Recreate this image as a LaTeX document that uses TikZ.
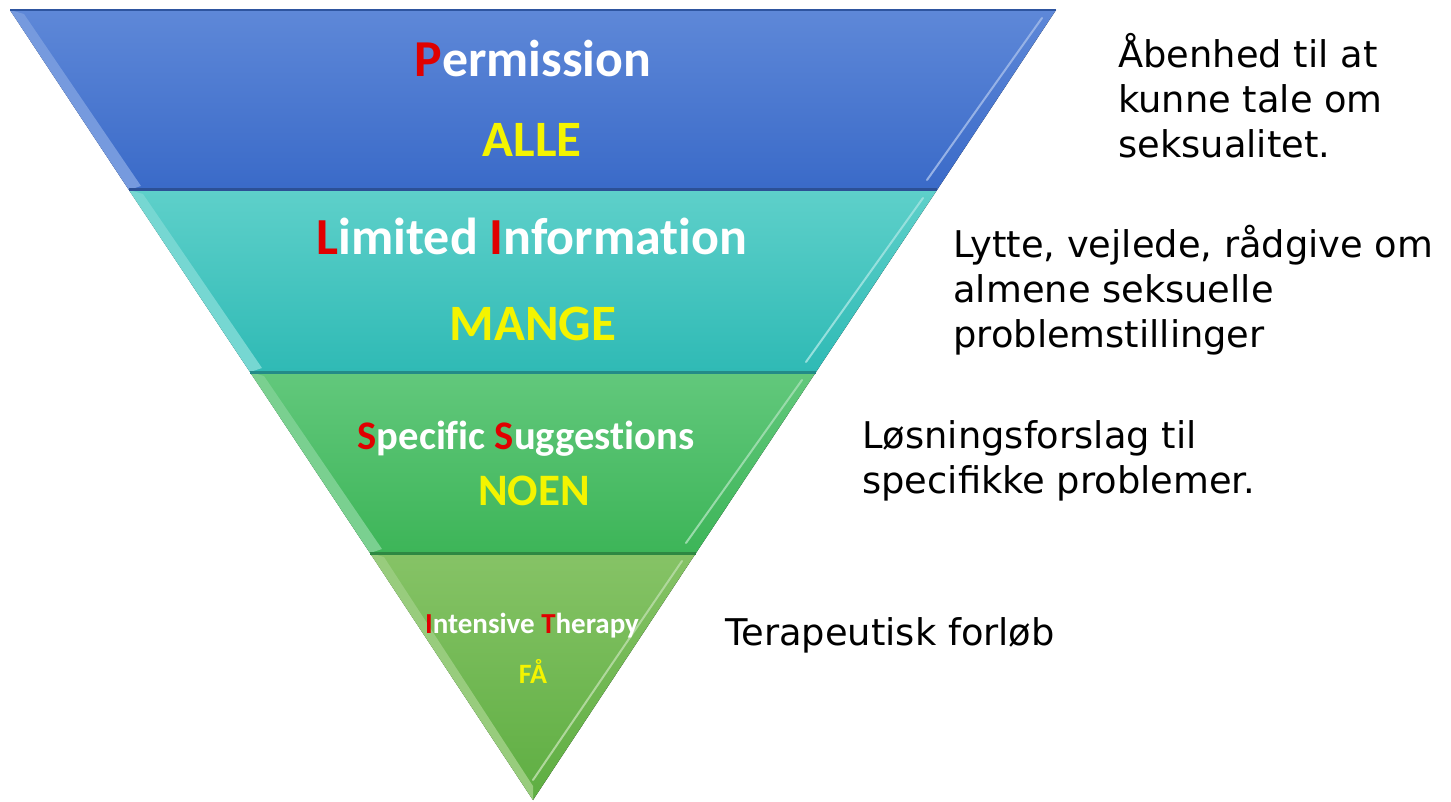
\documentclass[tikz,border=0pt]{standalone}
\usepackage{fontspec}
\setmainfont{DejaVu Sans}
\newfontfamily\calib{Carlito}[Ligatures={NoCommon}]
\usetikzlibrary{calc}
\definecolor{blueTop}{HTML}{5E88D8}
\definecolor{blueBot}{HTML}{3A6AC8}
\definecolor{cyanTop}{HTML}{5ED0CA}
\definecolor{cyanBot}{HTML}{2FBAB5}
\definecolor{greenTop}{HTML}{62C87C}
\definecolor{greenBot}{HTML}{3DB558}
\definecolor{lgTop}{HTML}{86C366}
\definecolor{lgBot}{HTML}{5EAE42}
\definecolor{redL}{HTML}{E00000}
\definecolor{yel}{HTML}{F4F400}
\tikzset{
  title/.style={anchor=base, inner sep=0pt, text=white, font=\calib\bfseries},
  count/.style={anchor=base, inner sep=0pt, text=yel, font=\calib\bfseries},
  desc/.style={anchor=base west, inner sep=0pt, align=left, text=black,
    font=\fontsize{18.4pt}{22.5pt}\selectfont},
}
\begin{document}
\begin{tikzpicture}[x=0.5pt,y=-0.5pt]
\useasboundingbox (0,0) rectangle (1451,802);
\coordinate (t0L) at (10,10);
\coordinate (t0R) at (1056,10);
\coordinate (t1L) at (129,190);
\coordinate (t1R) at (937,190);
\coordinate (t2L) at (250,372);
\coordinate (t2R) at (816,372);
\coordinate (t3L) at (370,553);
\coordinate (t3R) at (696,553);
\coordinate (ap) at (533,800);
% bands
\fill[top color=blueTop, bottom color=blueBot] (t0L) -- (t0R) -- (t1R) -- (t1L) -- cycle;
\fill[top color=cyanTop, bottom color=cyanBot] (t1L) -- (t1R) -- (t2R) -- (t2L) -- cycle;
\fill[top color=greenTop, bottom color=greenBot] (t2L) -- (t2R) -- (t3R) -- (t3L) -- cycle;
\fill[top color=lgTop, bottom color=lgBot] (t3L) -- (t3R) -- (ap) -- cycle;
% bevels: left light strips
\fill[blueTop!85!white] (t0L) -- ($(t0L)+(14,4)$) -- ($(t1L)+(12,-4)$) -- (t1L) -- cycle;
\fill[cyanTop!85!white] (t1L) -- ($(t1L)+(14,4)$) -- ($(t2L)+(12,-4)$) -- (t2L) -- cycle;
\fill[greenTop!85!white] (t2L) -- ($(t2L)+(14,4)$) -- ($(t3L)+(12,-4)$) -- (t3L) -- cycle;
\fill[lgTop!85!white] (t3L) -- ($(t3L)+(14,4)$) -- ($(ap)+(0,-14)$) -- (ap) -- cycle;
% right highlight lines
\draw[white!35!blueTop, line width=1pt, line cap=round] ($(t0R)+(-14,8)$) -- ($(t1R)+(-10,-10)$);
\draw[white!35!cyanTop, line width=1pt, line cap=round] ($(t1R)+(-14,8)$) -- ($(t2R)+(-10,-10)$);
\draw[white!35!greenTop, line width=1pt, line cap=round] ($(t2R)+(-14,8)$) -- ($(t3R)+(-10,-10)$);
\draw[white!35!lgTop, line width=1pt, line cap=round] ($(t3R)+(-14,8)$) -- ($(ap)+(0,-20)$);
% bottom dark edges
\draw[blueBot!75!black, line width=1.5pt] (t1L) -- (t1R);
\draw[cyanBot!75!black, line width=1.5pt] (t2L) -- (t2R);
\draw[greenBot!75!black, line width=1.5pt] (t3L) -- (t3R);
\draw[blueBot!80!black, line width=0.8pt] (t0L) -- (t0R);
% titles
\node[title, font=\calib\bfseries\fontsize{25.9pt}{30pt}\selectfont] (p) at (533,77) {\textcolor{redL}{P}ermission};
\node[count, font=\calib\bfseries\fontsize{25.5pt}{30pt}\selectfont] (alle) at (532,157) {ALLE};
\node[title, font=\calib\bfseries\fontsize{26pt}{30pt}\selectfont] (li) at (532,255) {\textcolor{redL}{L}imited \textcolor{redL}{I}nformation};
\node[count, font=\calib\bfseries\fontsize{25.5pt}{30pt}\selectfont] (mange) at (533,340) {MANGE};
\node[title, font=\calib\bfseries\fontsize{20.3pt}{24pt}\selectfont] (ss) at (526,449) {\textcolor{redL}{S}pecific \textcolor{redL}{S}uggestions};
\node[count, font=\calib\bfseries\fontsize{22.5pt}{26pt}\selectfont] (noen) at (534,505) {NOEN};
\node[title, font=\calib\bfseries\fontsize{14.5pt}{18pt}\selectfont] (it) at (532,633) {\textcolor{redL}{I}ntensive \textcolor{redL}{T}herapy};
\node[count, font=\calib\bfseries\fontsize{14pt}{18pt}\selectfont] (fa) at (533,683) {FÅ};
% descriptions (base = baseline of last line)
\node[desc] (d1) at (1118,158) {Åbenhed til at\\kunne tale om\\seksualitet.};
\node[desc] (d2) at (953,348) {Lytte, vejlede, rådgive om\\almene seksuelle\\problemstillinger};
\node[desc] (d3) at (862,493) {Løsningsforslag til\\specifikke problemer.};
\node[desc] (d4) at (725,645) {Terapeutisk forløb};
\end{tikzpicture}
\end{document}
